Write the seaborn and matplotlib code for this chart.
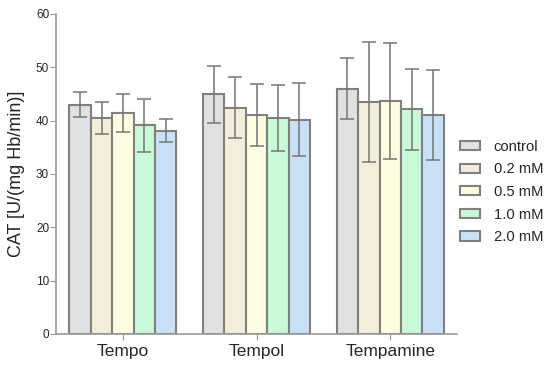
import numpy as np
import pandas as pd
import matplotlib
matplotlib.use('Agg')
import matplotlib.pyplot as plt
import seaborn as sns

# Values
compounds = ['Tempo', 'Tempol', 'Tempamine']
doses = ['control', '0.2 mM', '0.5 mM', '1.0 mM', '2.0 mM']
means = {
    'Tempo':     [43.0, 40.5, 41.4, 39.1, 38.1],
    'Tempol':    [44.9, 42.4, 41.1, 40.5, 40.2],
    'Tempamine': [46.0, 43.5, 43.7, 42.1, 41.1],
}
sds = {
    'Tempo':     [2.4, 3.0, 3.5, 4.9, 2.2],
    'Tempol':    [5.4, 5.7, 5.8, 6.2, 6.8],
    'Tempamine': [5.7, 11.2, 10.9, 7.6, 8.4],
}
colors = ['#e1e1e1', '#f3eed9', '#fffde1', '#c8fad7', '#c9e1f7']

rows = []
for c in compounds:
    for i, d in enumerate(doses):
        rows.append({'compound': c, 'dose': d, 'value': means[c][i], 'sd': sds[c][i]})
df = pd.DataFrame(rows)


def main():
    sns.set_style('white')
    plt.rcParams['font.family'] = ['Liberation Sans', 'DejaVu Sans']

    fig = plt.figure(figsize=(5.5, 3.65), dpi=100)
    ax = fig.add_axes([0.102, 0.085, 0.729, 0.877])

    sns.barplot(data=df, x='compound', y='value', hue='dose', order=compounds,
                hue_order=doses, palette=colors, errorbar=None, width=0.8,
                edgecolor='#808080', linewidth=1.5, saturation=1, ax=ax)

    # error bars at the bar centres seaborn placed
    for j, d in enumerate(doses):
        cont = ax.containers[j]
        for k, bar in enumerate(cont):
            row = df[(df.dose == d) & (df.compound == compounds[k])].iloc[0]
            xc = bar.get_x() + bar.get_width() / 2
            ax.errorbar(xc, row['value'], yerr=row['sd'], color='#757575', capsize=5,
                        elinewidth=1.1, capthick=1.1, zorder=3)

    ax.set_xlim(-0.5, 2.5)
    ax.set_ylim(0, 60)
    ax.set_yticks(range(0, 61, 10))
    ax.set_xlabel('')
    ax.set_ylabel('CAT [U/(mg Hb/min)]', fontsize=13, labelpad=8)
    ax.tick_params(axis='y', labelsize=8.5, length=4, color='#999999', left=True, pad=1)
    ax.tick_params(axis='x', labelsize=12.5, length=4, color='#999999', bottom=True, pad=3)
    sns.despine(ax=ax)
    for s in ['left', 'bottom']:
        ax.spines[s].set_color('#999999')
        ax.spines[s].set_linewidth(1.2)

    handles, labels = ax.get_legend_handles_labels()
    ax.legend(handles, labels, loc='center left', bbox_to_anchor=(0.836, 0.474),
              bbox_transform=fig.transFigure, frameon=False, fontsize=10.6,
              borderaxespad=0, borderpad=0,
              handlelength=1.36, handleheight=0.6, labelspacing=0.58, handletextpad=0.95)

    fig.savefig('out.png', dpi=100)


if __name__ == '__main__':
    main()
